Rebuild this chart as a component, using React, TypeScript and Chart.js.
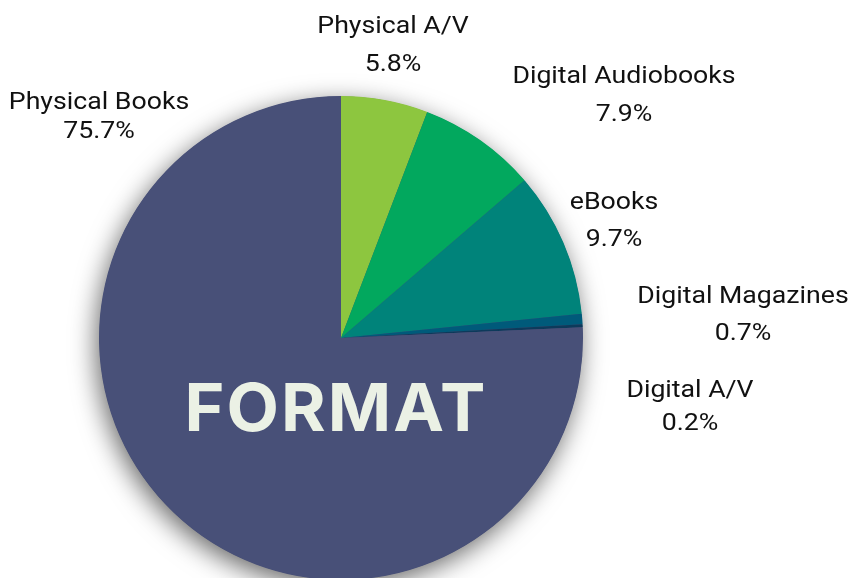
import React, { useEffect, useRef } from "react";
import { Chart, registerables } from "chart.js";

Chart.register(...registerables);

const categories = [
  "Physical A/V",
  "Digital Audiobooks",
  "eBooks",
  "Digital Magazines",
  "Digital A/V",
  "Physical Books",
];
const shares = [5.8, 7.9, 9.7, 0.7, 0.2, 75.7];
const valueLabels = ["5.8%", "7.9%", "9.7%", "0.7%", "0.2%", "75.7%"];
const sliceColors = ["#8DC63F", "#02A85E", "#00837A", "#005A7A", "#0D3A5B", "#485078"];
const centerTitle = "FORMAT";

// Layout (text placement only): [nameX, nameY, valueY]
const labelLayout: [number, number, number][] = [
  [393, 27, 65],
  [624, 77, 115],
  [614, 203, 240],
  [743, 297, 334],
  [690, 391, 424],
  [99, 103, 132],
];

export default function App() {
  const ref = useRef<HTMLCanvasElement | null>(null);

  useEffect(() => {
    if (!ref.current) return;

    const shadowPlugin = {
      id: "pieShadow",
      beforeDatasetsDraw(chart: any) {
        const meta = chart.getDatasetMeta(0);
        const arc = meta.data[0];
        if (!arc) return;
        const ctx = chart.ctx;
        ctx.save();
        ctx.shadowColor = "rgba(0,0,0,0.6)";
        ctx.shadowBlur = 26;
        ctx.shadowOffsetX = -3;
        ctx.shadowOffsetY = 7;
        ctx.beginPath();
        ctx.arc(arc.x, arc.y, arc.outerRadius - 0.5, 0, Math.PI * 2);
        ctx.fillStyle = sliceColors[sliceColors.length - 1];
        ctx.fill();
        ctx.restore();
      },
    };

    const labelPlugin = {
      id: "sliceLabels",
      afterDatasetsDraw(chart: any) {
        const ctx = chart.ctx;
        const meta = chart.getDatasetMeta(0);
        const arc = meta.data[0];
        const sx = 1.16;
        ctx.save();
        ctx.textAlign = "center";
        ctx.textBaseline = "middle";
        ctx.fillStyle = "#111111";
        ctx.font = "23px Roboto";
        categories.forEach((c, i) => {
          const [x, y, vy] = labelLayout[i];
          ctx.save();
          ctx.translate(x, 0);
          ctx.scale(sx, 1);
          ctx.fillText(c, 0, y);
          ctx.fillText(valueLabels[i], 0, vy);
          ctx.restore();
        });
        if (arc) {
          ctx.fillStyle = "#EBF1E5";
          ctx.font = "bold 66px Inter";
          (ctx as any).letterSpacing = "2px";
          const w = ctx.measureText(centerTitle).width;
          const target = 303;
          ctx.save();
          ctx.translate(arc.x - 5, arc.y + 73);
          ctx.scale(target / w, 1);
          ctx.fillText(centerTitle, 0, 0);
          ctx.restore();
        }
        ctx.restore();
      },
    };

    const chart = new Chart(ref.current, {
      type: "pie",
      data: {
        labels: categories,
        datasets: [
          {
            data: shares,
            backgroundColor: sliceColors,
            borderWidth: 0,
          },
        ],
      },
      options: {
        animation: false,
        responsive: false,
        maintainAspectRatio: false,
        layout: { padding: { left: 99, right: 268, top: 96, bottom: 20 } },
        plugins: {
          legend: { display: false },
          tooltip: { enabled: false },
        },
      },
      plugins: [shadowPlugin, labelPlugin],
    });
    return () => chart.destroy();
  }, []);

  return (
    <div style={{ position: "fixed", left: 0, top: 0, width: 851, height: 578, overflow: "hidden", background: "#fff" }}>
      <canvas ref={ref} width={851} height={600} style={{ width: 851, height: 600, display: "block" }} />
    </div>
  );
}
